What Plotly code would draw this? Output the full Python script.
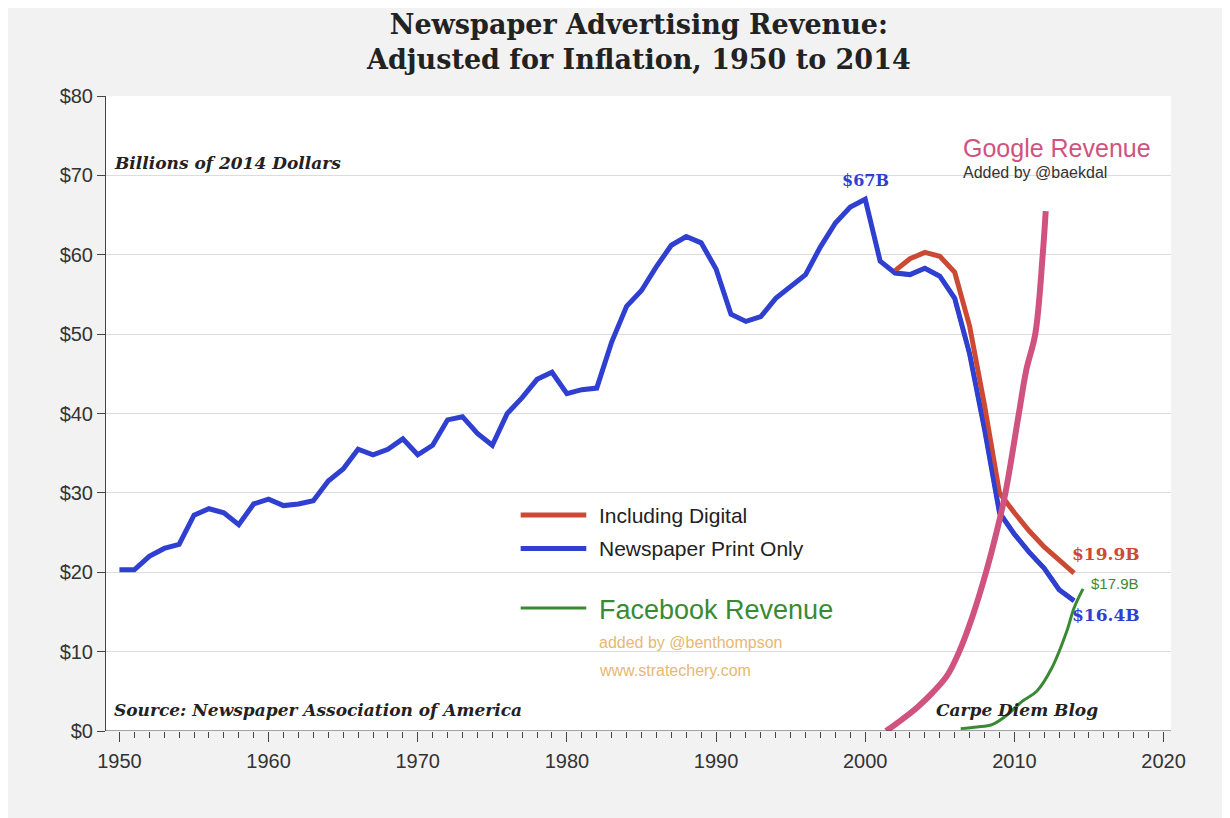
import plotly.graph_objects as go

# Newspaper print only (billions of 2014 dollars)
print_years = list(range(1950, 2015))
print_vals = [20.3, 20.3, 22.0, 23.0, 23.5, 27.2, 28.0, 27.5, 26.0, 28.6,
              29.2, 28.4, 28.6, 29.0, 31.5, 33.0, 35.5, 34.8, 35.5, 36.8,
              34.8, 36.0, 39.2, 39.6, 37.5, 36.0, 40.0, 42.0, 44.3, 45.2,
              42.5, 43.0, 43.2, 49.0, 53.5, 55.5, 58.5, 61.2, 62.3, 61.5,
              58.2, 52.5, 51.6, 52.2, 54.5, 56.0, 57.5, 61.0, 64.0, 66.0,
              67.0, 59.2, 57.7, 57.5, 58.3, 57.3, 54.5, 47.5, 38.0, 27.5,
              24.8, 22.5, 20.5, 17.8, 16.4]

digital_years = list(range(2002, 2015))
digital_vals = [58.0, 59.5, 60.3, 59.8, 57.8, 51.0, 41.0, 30.0, 27.5, 25.2, 23.2, 21.5, 19.9]

google_x = [2001.4, 2002.5, 2003.5, 2004.5, 2005.5, 2006.3, 2007.2, 2008.1, 2008.8,
            2009.4, 2010.3, 2010.8, 2011.4, 2011.9, 2012.1]
google_vals = [0, 1.5, 3.0, 4.8, 7.0, 10.0, 14.5, 20.0, 25.0, 30.0, 40.0, 45.5, 50.0, 60.0, 65.5]

facebook_x = [2006.4, 2007.5, 2008.5, 2009.5, 2010.5, 2011.5, 2012.5, 2013.5, 2014.0, 2014.6]
facebook_vals = [0.3, 0.5, 0.8, 2.0, 3.7, 5.0, 7.9, 12.5, 15.5, 17.9]

BLUE = "#2f3fd0"
RED = "#cc4a35"
PINK = "#d0537f"
GREEN = "#3a8a34"
SERIF = "DejaVu Serif"
SANS = "Liberation Sans"

fig = go.Figure()
fig.add_trace(go.Scatter(x=print_years, y=print_vals, mode="lines",
                         line=dict(color=BLUE, width=5)))
fig.add_trace(go.Scatter(x=digital_years, y=digital_vals, mode="lines",
                         line=dict(color=RED, width=5)))
fig.add_trace(go.Scatter(x=print_years[52:], y=print_vals[52:], mode="lines",
                         line=dict(color=BLUE, width=4)))
fig.add_trace(go.Scatter(x=google_x, y=google_vals, mode="lines",
                         line=dict(color=PINK, width=6, shape="spline")))
fig.add_trace(go.Scatter(x=facebook_x, y=facebook_vals, mode="lines",
                         line=dict(color=GREEN, width=3, shape="spline")))

ann = []
def text(x, y, s, size, color, family=SANS, xanchor="left", ref="data", **kw):
    ann.append(dict(x=x, y=y, text=s, showarrow=False, xanchor=xanchor, yanchor="middle",
                    xref="x" if ref == "data" else "paper",
                    yref="y" if ref == "data" else "paper",
                    font=dict(size=size, color=color, family=family), **kw))

text(1949.5, 71.5, "<b><i>Billions of 2014 Dollars</i></b>", 17, "#222", SERIF)
text(1949.5, 2.7, "<b><i>Source: Newspaper Association of America</i></b>", 17, "#222", SERIF)
text(2004.6, 2.7, "<b><i>Carpe Diem Blog</i></b>", 17, "#222", SERIF)
text(2000, 69.4, "<b>$67B</b>", 16, BLUE, SERIF, xanchor="center")
text(2006.4, 73.5, "Google Revenue", 25, PINK)
text(2006.4, 70.3, "Added by @baekdal", 16, "#333")
text(1982.0, 27.2, "Including Digital", 21, "#222")
text(1982.0, 23.0, "Newspaper Print Only", 21, "#222")
text(1982.0, 15.2, "Facebook Revenue", 27, GREEN)
text(1982.0, 11.2, "added by @benthompson", 16, "#e8b870")
text(1982.0, 7.6, "www.stratechery.com", 16, "#e8b870")
text(2013.7, 22.3, "<b>$19.9B</b>", 17, RED, SERIF)
text(2015.0, 18.6, "$17.9B", 15, GREEN)
text(2013.7, 14.6, "<b>$16.4B</b>", 17, BLUE, SERIF)
text(0.5, 1.085, "<b>Newspaper Advertising Revenue:<br>Adjusted for Inflation, 1950 to 2014</b>",
     27, "#222", SERIF, xanchor="center", ref="paper")

shapes = []
for y, c, w in [(27.2, RED, 5), (23.0, BLUE, 5), (15.5, GREEN, 3)]:
    shapes.append(dict(type="line", x0=1976.9, x1=1981.3, y0=y, y1=y, xref="x", yref="y",
                       line=dict(color=c, width=w)))

fig.update_layout(
    width=1230, height=818,
    paper_bgcolor="#f2f2f2", plot_bgcolor="white",
    margin=dict(l=98, r=67, t=88, b=95),
    showlegend=False, annotations=ann, shapes=shapes,
    font=dict(family=SANS, size=20, color="#333"),
)
fig.update_xaxes(range=[1949.1, 2020.5], tickvals=list(range(1950, 2021, 10)),
                 showgrid=False, zeroline=False, ticks="outside", ticklen=10,
                 tickcolor="#444", ticklabelstandoff=2,
                 minor=dict(dtick=1, ticks="outside", ticklen=6, tickcolor="#444"))
fig.update_yaxes(range=[0, 80], tickvals=list(range(0, 81, 10)),
                 ticktext=[f"${v}" for v in range(0, 81, 10)],
                 showgrid=True, gridcolor="#dcdcdc", zeroline=False,
                 ticks="outside", ticklen=8, tickcolor="#444",
                 showline=True, linecolor="#444")
fig.add_hline(y=0, line=dict(color="#444", width=1))

fig.write_html("out.html")
